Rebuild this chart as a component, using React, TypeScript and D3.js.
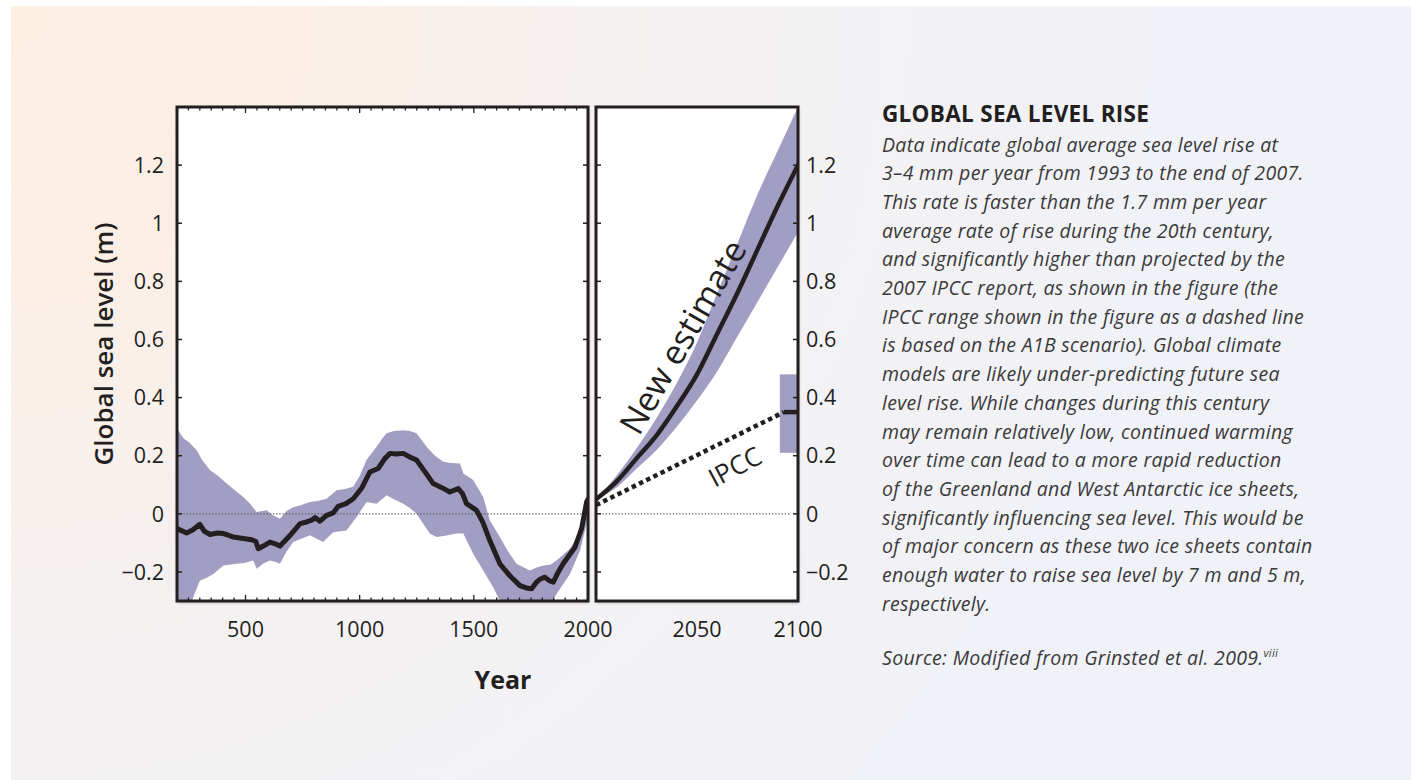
import React from "react";
import * as d3 from "d3";

// ---- Data ----
const histYears = [200, 242, 270, 300, 320, 345, 375, 403, 420, 447, 490, 527, 545, 556, 580, 607, 630, 651, 700, 739, 768, 790, 804, 826, 855, 884, 906, 940, 972, 1010, 1045, 1081, 1110, 1133, 1160, 1191, 1220, 1249, 1290, 1322, 1360, 1395, 1432, 1450, 1468, 1512, 1540, 1570, 1614, 1660, 1702, 1730, 1753, 1775, 1790, 1811, 1830, 1848, 1870, 1891, 1920, 1943, 1972, 1994, 2000];
const histLevel = [-0.051, -0.066, -0.055, -0.036, -0.06, -0.071, -0.066, -0.068, -0.072, -0.08, -0.085, -0.089, -0.095, -0.12, -0.11, -0.097, -0.103, -0.111, -0.07, -0.034, -0.028, -0.022, -0.013, -0.025, -0.005, 0.003, 0.026, 0.035, 0.052, 0.09, 0.144, 0.156, 0.19, 0.208, 0.206, 0.208, 0.195, 0.185, 0.14, 0.104, 0.09, 0.075, 0.087, 0.07, 0.035, 0.012, -0.03, -0.092, -0.172, -0.215, -0.247, -0.255, -0.258, -0.235, -0.225, -0.218, -0.23, -0.235, -0.2, -0.172, -0.14, -0.115, -0.051, 0.041, 0.05];

const upperYears = [200, 228, 255, 286, 310, 345, 380, 418, 455, 490, 520, 549, 593, 620, 651, 680, 709, 745, 782, 820, 855, 899, 935, 972, 1000, 1030, 1074, 1100, 1118, 1150, 1191, 1220, 1249, 1293, 1330, 1366, 1400, 1439, 1454, 1497, 1541, 1570, 1614, 1650, 1687, 1745, 1775, 1804, 1835, 1862, 1921, 1979, 2000];
const upperLevel = [0.294, 0.26, 0.245, 0.219, 0.185, 0.15, 0.13, 0.104, 0.08, 0.058, 0.035, 0.006, 0.012, -0.005, -0.017, 0.01, 0.023, 0.03, 0.041, 0.045, 0.052, 0.081, 0.085, 0.093, 0.13, 0.185, 0.231, 0.26, 0.277, 0.285, 0.288, 0.285, 0.277, 0.231, 0.2, 0.179, 0.175, 0.173, 0.139, 0.116, 0.058, -0.022, -0.08, -0.13, -0.172, -0.195, -0.185, -0.178, -0.175, -0.161, -0.12, -0.046, 0.05];

const lowerYears = [200, 240, 271, 300, 330, 359, 403, 461, 500, 534, 549, 580, 607, 630, 651, 680, 709, 782, 810, 840, 884, 942, 987, 1030, 1074, 1118, 1150, 1191, 1220, 1249, 1307, 1337, 1380, 1424, 1454, 1497, 1541, 1585, 1614, 1700, 1800, 1862, 1921, 1965, 1994, 2000];
const lowerLevel = [-0.45, -0.38, -0.287, -0.23, -0.22, -0.207, -0.178, -0.172, -0.168, -0.161, -0.189, -0.17, -0.161, -0.165, -0.172, -0.13, -0.097, -0.074, -0.085, -0.097, -0.063, -0.057, -0.011, 0.041, 0.035, 0.064, 0.05, 0.035, 0.02, 0.0, -0.068, -0.08, -0.075, -0.068, -0.068, -0.137, -0.195, -0.253, -0.3, -0.36, -0.36, -0.276, -0.207, -0.126, -0.034, 0.04];

const futureYears = [2000, 2010, 2020, 2030, 2040, 2050, 2060, 2070, 2080, 2090, 2100];
const newEstimate = [0.05, 0.11, 0.19, 0.27, 0.37, 0.48, 0.62, 0.76, 0.91, 1.06, 1.2];
const newUpper = [0.05, 0.13, 0.225, 0.33, 0.45, 0.59, 0.76, 0.93, 1.1, 1.25, 1.4];
const newLower = [0.05, 0.09, 0.155, 0.22, 0.3, 0.39, 0.49, 0.61, 0.73, 0.85, 0.97];

const ipccYears = [2000, 2093];
const ipccLevel = [0.03, 0.35];
const ipccEndYears = [2093, 2100];
const ipccEndLevel = [0.35, 0.35];
const ipccRangeYears = [2091, 2100];
const ipccRangeLevel = [0.21, 0.48];

const yTicks = [-0.2, 0, 0.2, 0.4, 0.6, 0.8, 1, 1.2];
const yTickLabels = ["\u22120.2", "0", "0.2", "0.4", "0.6", "0.8", "1", "1.2"];
const histTicks = [500, 1000, 1500, 2000];
const futureTicks = [2050, 2100];

const title = "GLOBAL SEA LEVEL RISE";
const bodyLines = [
  "Data indicate global average sea level rise at",
  "3\u20134 mm per year from 1993 to the end of 2007.",
  "This rate is faster than the 1.7 mm per year",
  "average rate of rise during the 20th century,",
  "and significantly higher than projected by the",
  "2007 IPCC report, as shown in the figure (the",
  "IPCC range shown in the figure as a dashed line",
  "is based on the A1B scenario). Global climate",
  "models are likely under-predicting future sea",
  "level rise. While changes during this century",
  "may remain relatively low, continued warming",
  "over time can lead to a more rapid reduction",
  "of the Greenland and West Antarctic ice sheets,",
  "significantly influencing sea level. This would be",
  "of major concern as these two ice sheets contain",
  "enough water to raise sea level by 7 m and 5 m,",
  "respectively.",
];
const sourceText = "Source: Modified from Grinsted et al. 2009.";
const sourceSup = "viii";

const BAND = "#a19dc3";
const INK = "#231f20";
const FONT = "'Open Sans', 'Noto Sans', sans-serif";

export default function App() {
  const W = 1411;
  const H = 780;
  const y = d3.scaleLinear().domain([-0.3, 1.4]).range([601, 107]);
  const xL = d3.scaleLinear().domain([200, 2000]).range([177, 588]);
  const xR = d3.scaleLinear().domain([2000, 2100]).range([596, 798]);

  const lineL = d3
    .line<[number, number]>()
    .x((d) => xL(d[0]))
    .y((d) => y(d[1]));
  const histPts: [number, number][] = histYears.map((t, i) => [t, histLevel[i]]);
  const bandPts: [number, number][] = upperYears
    .map((t, i) => [t, upperLevel[i]] as [number, number])
    .concat(lowerYears.map((t, i) => [t, lowerLevel[i]] as [number, number]).reverse());

  const futArea = d3
    .area<number>()
    .x((t) => xR(t))
    .y0((_, i) => y(newLower[i]))
    .y1((_, i) => y(newUpper[i]))
    .curve(d3.curveMonotoneX);
  const futLine = d3
    .line<number>()
    .x((t) => xR(t))
    .y((_, i) => y(newEstimate[i]))
    .curve(d3.curveMonotoneX);
  const lineR = d3
    .line<[number, number]>()
    .x((d) => xR(d[0]))
    .y((d) => y(d[1]));

  const [lx0, lx1] = xL.range();
  const [rx0, rx1] = xR.range();
  const [yb, yt] = y.range();

  const minor = d3.range(250, 2000, 50);

  return (
    <svg
      width={W}
      height={H}
      style={{ position: "absolute", left: 0, top: 0, display: "block" }}
      fontFamily={FONT}
    >
      <defs>
        <radialGradient id="bg" gradientUnits="userSpaceOnUse" cx={11} cy={6} r={1150}>
          <stop offset="0" stopColor="#fdefe2" />
          <stop offset="0.25" stopColor="#fbefe6" />
          <stop offset="0.55" stopColor="#f4f1f1" />
          <stop offset="1" stopColor="#f1f2f7" />
        </radialGradient>
        <filter id="sh" x="-5%" y="-5%" width="110%" height="110%">
          <feDropShadow dx="1" dy="2" stdDeviation="1.5" floodColor="#000" floodOpacity="0.25" />
        </filter>
        <clipPath id="clipL">
          <rect x={lx0} y={yt} width={lx1 - lx0} height={yb - yt} />
        </clipPath>
        <clipPath id="clipR">
          <rect x={rx0} y={yt} width={rx1 - rx0} height={yb - yt} />
        </clipPath>
      </defs>
      <rect x={0} y={0} width={W} height={H} fill="#ffffff" />
      <rect x={11} y={6} width={W - 11} height={H - 6} fill="url(#bg)" />

      {/* panel backgrounds */}
      <rect x={lx0} y={yt} width={lx1 - lx0} height={yb - yt} fill="#fff" filter="url(#sh)" />
      <rect x={rx0} y={yt} width={rx1 - rx0} height={yb - yt} fill="#fff" filter="url(#sh)" />

      {/* Left panel content */}
      <g clipPath="url(#clipL)">
        <path d={lineL(bandPts) + "Z"} fill={BAND} />
        <line x1={lx0} x2={lx1} y1={y(0)} y2={y(0)} stroke="#555" strokeWidth={1.2} strokeDasharray="1.2 2" />
        <path d={lineL(histPts) || ""} fill="none" stroke={INK} strokeWidth={5} strokeLinejoin="round" strokeLinecap="round" />
      </g>

      {/* Right panel content */}
      <g clipPath="url(#clipR)">
        <line x1={rx0} x2={rx1 - 8} y1={y(0)} y2={y(0)} stroke="#555" strokeWidth={1.2} strokeDasharray="1.2 2" />
        <rect
          x={xR(ipccRangeYears[0])}
          y={y(ipccRangeLevel[1])}
          width={xR(ipccRangeYears[1]) - xR(ipccRangeYears[0])}
          height={y(ipccRangeLevel[0]) - y(ipccRangeLevel[1])}
          fill={BAND}
        />
        <path d={futArea(futureYears) || ""} fill={BAND} />
        <path d={futLine(futureYears) || ""} fill="none" stroke={INK} strokeWidth={4.5} strokeLinecap="round" />
        <path
          d={lineR(ipccYears.map((t, i) => [t, ipccLevel[i]] as [number, number])) || ""}
          fill="none"
          stroke={INK}
          strokeWidth={4.5}
          strokeDasharray="4.5 3.5"
        />
        <path
          d={lineR(ipccEndYears.map((t, i) => [t, ipccEndLevel[i]] as [number, number])) || ""}
          fill="none"
          stroke={INK}
          strokeWidth={4.5}
        />
      </g>

      {/* ticks: left panel top/bottom */}
      {minor.map((t) => {
        const major = t % 500 === 0;
        const len = major ? 6 : 3.5;
        return (
          <g key={"mt" + t} stroke={INK} strokeWidth={1.3}>
            <line x1={xL(t)} x2={xL(t)} y1={yt} y2={yt + len} />
            <line x1={xL(t)} x2={xL(t)} y1={yb} y2={yb - len} />
          </g>
        );
      })}
      {/* y ticks on all vertical edges */}
      {yTicks.map((v) => (
        <g key={"yt" + v} stroke={INK} strokeWidth={1.5}>
          <line x1={lx0} x2={lx0 + 5} y1={y(v)} y2={y(v)} />
          <line x1={lx1} x2={lx1 - 5} y1={y(v)} y2={y(v)} />
          <line x1={rx0} x2={rx0 + 5} y1={y(v)} y2={y(v)} />
          <line x1={rx1} x2={rx1 - 5} y1={y(v)} y2={y(v)} />
        </g>
      ))}

      {/* frames */}
      <rect x={lx0} y={yt} width={lx1 - lx0} height={yb - yt} fill="none" stroke={INK} strokeWidth={3} />
      <rect x={rx0} y={yt} width={rx1 - rx0} height={yb - yt} fill="none" stroke={INK} strokeWidth={3} />

      {/* y tick labels */}
      {yTicks.map((v, i) => (
        <text key={"yl" + v} x={164} y={y(v)} dy="0.36em" textAnchor="end" fontSize={21.5} fill={INK}>
          {yTickLabels[i]}
        </text>
      ))}
      {yTicks.map((v, i) => (
        <text key={"yr" + v} x={806} y={y(v)} dy="0.36em" textAnchor="start" fontSize={21.5} fill={INK}>
          {yTickLabels[i]}
        </text>
      ))}

      {/* x tick labels */}
      {histTicks.map((t) => (
        <text key={"xl" + t} x={xL(t)} y={637} textAnchor="middle" fontSize={21.5} fill={INK}>
          {t}
        </text>
      ))}
      {futureTicks.map((t) => (
        <text key={"xr" + t} x={xR(t)} y={637} textAnchor="middle" fontSize={21.5} fill={INK}>
          {t}
        </text>
      ))}

      {/* axis titles */}
      <text x={503} y={689} textAnchor="middle" fontSize={25} fontWeight={700} fill={INK}>
        Year
      </text>
      <text
        transform="translate(113,344) rotate(-90)"
        textAnchor="middle"
        fontSize={26}
        fontWeight={600}
        fill={INK}
      >
        Global sea level (m)
      </text>

      {/* in-plot labels */}
      <text transform="translate(683,337) rotate(-60)" textAnchor="middle" dy="0.35em" fontSize={34} fill={INK}>
        New estimate
      </text>
      <text transform="translate(735,467) rotate(-28)" textAnchor="middle" dy="0.35em" fontSize={26} fill={INK}>
        IPCC
      </text>

      {/* text block */}
      <text x={882} y={121.5} fontSize={22.5} fontWeight={700} letterSpacing={0.3} fill={INK}>
        {title}
      </text>
      {bodyLines.map((l, i) => (
        <text key={"b" + i} x={882} y={151.5 + i * 28.7} fontSize={19.5} letterSpacing={0.3} fontStyle="italic" fill="#3a3a3a">
          {l}
        </text>
      ))}
      <text x={882} y={665} fontSize={19.5} letterSpacing={0.3} fontStyle="italic" fill="#3a3a3a">
        {sourceText}
        <tspan fontSize={11} dy={-8}>
          {sourceSup}
        </tspan>
      </text>
    </svg>
  );
}
